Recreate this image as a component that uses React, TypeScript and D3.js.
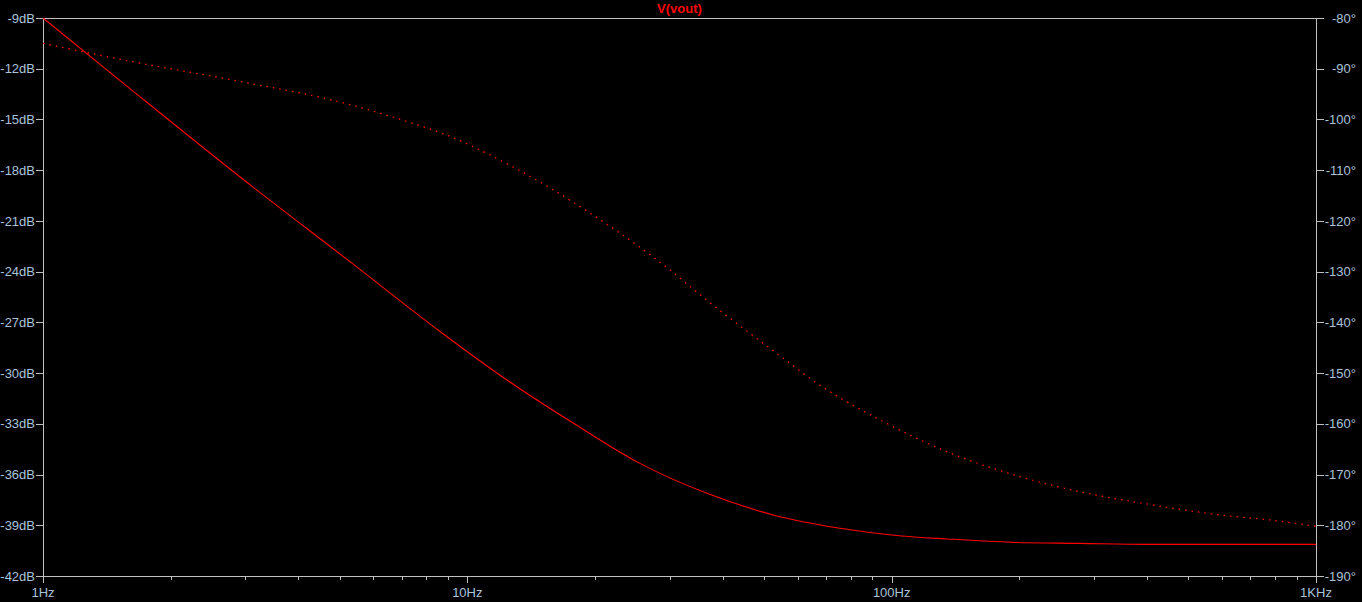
import React, { useEffect, useRef } from 'react';
import * as d3 from 'd3';

// values
const magFreq = [1, 1.6, 2.91, 5.29, 8.62, 12.4, 17.8, 25.5, 36.7, 52.6, 75.6, 104, 135, 193, 278, 399, 1000];
const magDb = [-9.0, -13.16, -18.39, -23.41, -27.54, -30.41, -32.97, -35.34, -37.11, -38.39, -39.18, -39.62, -39.81, -40.01, -40.07, -40.13, -40.13];

const phaseFreq = [1, 1.6, 2.91, 5.2, 7.2, 8.7, 13.1, 19.5, 28, 39.4, 52.6, 67.8, 94.7, 135, 193, 278, 399, 573, 823, 1000];
const phaseDeg = [-85.0, -88.5, -92.5, -96.9, -100.4, -102.7, -109.8, -118.5, -127.7, -137.7, -145.6, -152.4, -159.4, -165.5, -170.0, -173.4, -175.8, -177.8, -179.2, -180.2];

const dbTicks = [-9, -12, -15, -18, -21, -24, -27, -30, -33, -36, -39, -42];
const degTicks = [-80, -90, -100, -110, -120, -130, -140, -150, -160, -170, -180, -190];
const freqTicks = [1, 10, 100, 1000];
const freqLabels = ['1Hz', '10Hz', '100Hz', '1KHz'];
const title = 'V(vout)';

const width = 1362;
const height = 602;
const margin = { top: 18, right: 46, bottom: 26, left: 43 };
const innerWidth = width - margin.left - margin.right;
const innerHeight = height - margin.top - margin.bottom;

const frame = '#c0c0c0';
const textCol = '#a9c3d9';
const trace = '#ff0000';
const font = '"Liberation Sans", Arial, sans-serif';

const Bode: React.FC = () => {
	const ref = useRef<SVGGElement>(null);

	useEffect(() => {
		const g = d3.select(ref.current);
		g.selectAll('*').remove();

		const x = d3.scaleLog().domain([1, 1000]).range([0, innerWidth]);
		const yDb = d3.scaleLinear().domain([-9, -42]).range([0, innerHeight]);
		const yDeg = d3.scaleLinear().domain([-80, -190]).range([0, innerHeight]);

		// minor ticks 2..9 in each decade
		const minor: number[] = [];
		for (let dec = 1; dec < 1000; dec *= 10) {
			for (let k = 2; k <= 9; k++) minor.push(dec * k);
		}

		g.append('rect')
			.attr('x', 0.5)
			.attr('y', 0.5)
			.attr('width', innerWidth)
			.attr('height', innerHeight)
			.attr('fill', 'none')
			.attr('stroke', frame)
			.attr('shape-rendering', 'crispEdges');

		// bottom axis
		g.selectAll('.minor')
			.data(minor)
			.enter()
			.append('line')
			.attr('x1', (d) => Math.round(x(d)) + 0.5)
			.attr('x2', (d) => Math.round(x(d)) + 0.5)
			.attr('y1', innerHeight)
			.attr('y2', innerHeight + 4)
			.attr('stroke', frame);

		g.selectAll('.major')
			.data(freqTicks)
			.enter()
			.append('line')
			.attr('x1', (d) => Math.round(x(d)) + 0.5)
			.attr('x2', (d) => Math.round(x(d)) + 0.5)
			.attr('y1', innerHeight)
			.attr('y2', innerHeight + 7)
			.attr('stroke', frame);

		g.selectAll('.xlab')
			.data(freqTicks)
			.enter()
			.append('text')
			.attr('x', (d) => x(d))
			.attr('y', innerHeight + 21)
			.attr('text-anchor', 'middle')
			.attr('fill', textCol)
			.style('font', `13px ${font}`)
			.text((d, i) => freqLabels[i]);

		// left axis, dB
		g.selectAll('.ldb')
			.data(dbTicks)
			.enter()
			.append('line')
			.attr('x1', -7)
			.attr('x2', 0)
			.attr('y1', (d) => Math.round(yDb(d)) + 0.5)
			.attr('y2', (d) => Math.round(yDb(d)) + 0.5)
			.attr('stroke', frame);

		g.selectAll('.ldbt')
			.data(dbTicks)
			.enter()
			.append('text')
			.attr('x', -8)
			.attr('y', (d) => yDb(d))
			.attr('dy', '0.36em')
			.attr('text-anchor', 'end')
			.attr('fill', textCol)
			.style('font', `13px ${font}`)
			.text((d) => `${d}dB`);

		// right axis, phase
		g.selectAll('.rdeg')
			.data(degTicks)
			.enter()
			.append('line')
			.attr('x1', innerWidth)
			.attr('x2', innerWidth + 8)
			.attr('y1', (d) => Math.round(yDeg(d)) + 0.5)
			.attr('y2', (d) => Math.round(yDeg(d)) + 0.5)
			.attr('stroke', frame);

		g.selectAll('.rdegt')
			.data(degTicks)
			.enter()
			.append('text')
			.attr('x', width - margin.left - 6)
			.attr('y', (d) => yDeg(d))
			.attr('dy', '0.36em')
			.attr('text-anchor', 'end')
			.attr('fill', textCol)
			.style('font', `13px ${font}`)
			.text((d) => `${d}°`);

		g.append('text')
			.attr('x', innerWidth / 2)
			.attr('y', -5)
			.attr('text-anchor', 'middle')
			.attr('fill', trace)
			.style('font', `bold 13px ${font}`)
			.text(title);

		// traces
		const magLine = d3
			.line<number>()
			.x((d, i) => x(magFreq[i]))
			.y((d) => yDb(d))
			.curve(d3.curveMonotoneX);

		const phaseLine = d3
			.line<number>()
			.x((d, i) => x(phaseFreq[i]))
			.y((d) => yDeg(d))
			.curve(d3.curveMonotoneX);

		// phase is dotted, as LTspice draws it
		g.append('path')
			.attr('d', phaseLine(phaseDeg))
			.attr('fill', 'none')
			.attr('stroke', trace)
			.attr('stroke-width', 1.3)
			.attr('stroke-dasharray', '1.5 5');

		g.append('path')
			.attr('d', magLine(magDb))
			.attr('fill', 'none')
			.attr('stroke', trace)
			.attr('stroke-width', 1.1);
	}, []);

	return (
		<svg width={width} height={height} style={{ display: 'block', background: '#000' }}>
			<g ref={ref} transform={`translate(${margin.left},${margin.top})`} />
		</svg>
	);
};

const App: React.FC = () => {
	return (
		<div style={{ position: 'fixed', left: 0, top: 0, width: width, height: height, background: '#000' }}>
			<Bode />
		</div>
	);
};

export default App;
